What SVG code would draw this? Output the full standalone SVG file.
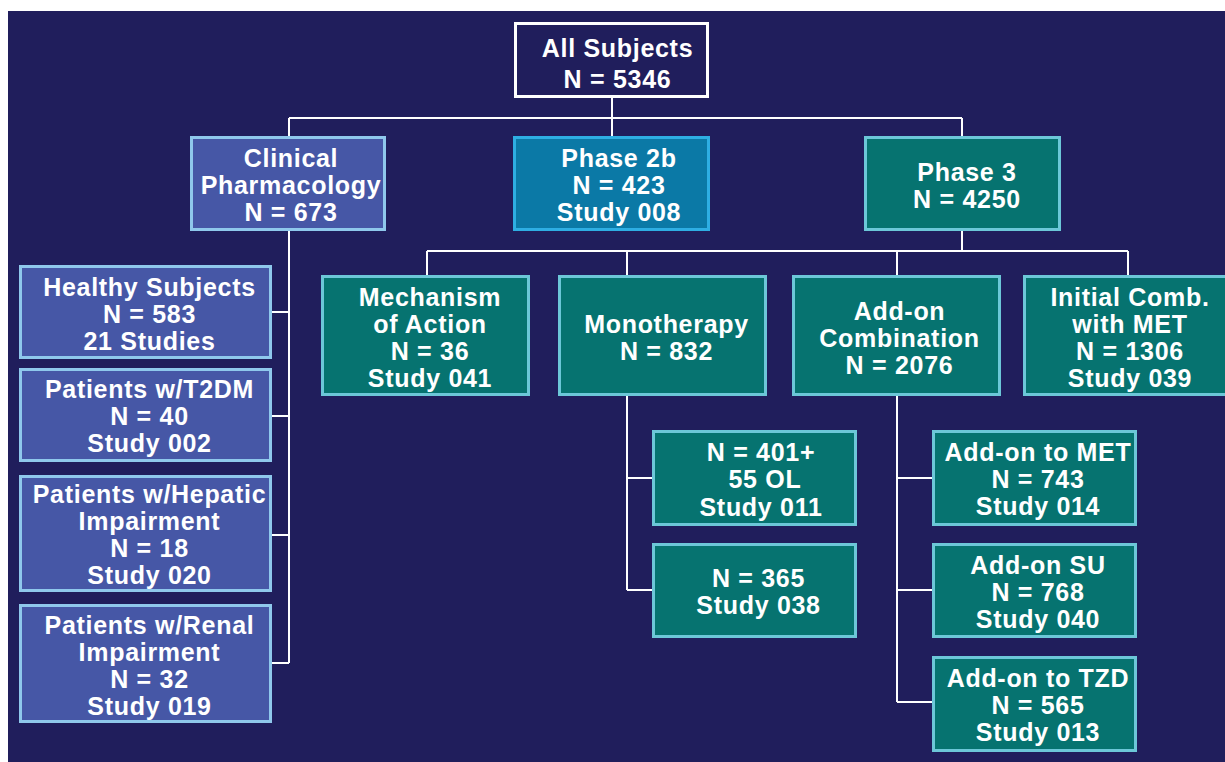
<svg xmlns="http://www.w3.org/2000/svg" width="1225" height="762" viewBox="0 0 1225 762">
<style>
.bg{fill:#201e5c}
.top{fill:#201e5c;stroke:#ffffff;stroke-width:3}
.cp{fill:#4657a6;stroke:#8fc8ec;stroke-width:3}
.p2{fill:#0b79a6;stroke:#2eaee3;stroke-width:3}
.tl{fill:#067370;stroke:#6cc7d8;stroke-width:3}
.ln{fill:none;stroke:#ffffff;stroke-width:2}
text{font-family:"Liberation Sans",Arial,sans-serif;font-weight:bold;font-size:25px;letter-spacing:0.7px;fill:#ffffff;text-anchor:middle}
</style>
<rect x="0" y="0" width="1225" height="762" fill="#ffffff"/>
<rect class="bg" x="8" y="11" width="1217" height="751"/>
<g id="connectors">
<path class="ln" d="M612 98V118M289 118H962M289 118V136M612 118V136M962 118V136"/>
<path class="ln" d="M289 231V663M272 312H289M272 416H289M272 535H289M272 663H289"/>
<path class="ln" d="M962 231V251M427 251H1128M427 251V275M627 251V275M897 251V275M1128 251V275"/>
<path class="ln" d="M627 396V590M627 478H652M627 590H652"/>
<path class="ln" d="M897 396V702M897 478H932M897 590H932M897 702H932"/>
</g>
<g id="all-subjects"><rect class="top" x="515.5" y="23.5" width="192" height="73"/><text x="617.5" y="57">All Subjects</text><text x="617.5" y="88">N = 5346</text></g>
<g id="clinical-pharmacology"><rect class="cp" x="191.5" y="137.5" width="193" height="92"/><text x="291" y="167">Clinical</text><text x="291" y="194">Pharmacology</text><text x="291" y="221">N = 673</text></g>
<g id="phase-2b"><rect class="p2" x="514.5" y="137.5" width="194" height="92"/><text x="619" y="167">Phase 2b</text><text x="619" y="194">N = 423</text><text x="619" y="221">Study 008</text></g>
<g id="phase-3"><rect class="tl" x="865.5" y="137.5" width="194" height="92"/><text x="967" y="181">Phase 3</text><text x="967" y="208">N = 4250</text></g>
<g id="healthy-subjects"><rect class="cp" x="20.5" y="266.5" width="250" height="91"/><text x="149.5" y="296">Healthy Subjects</text><text x="149.5" y="323">N = 583</text><text x="149.5" y="350">21 Studies</text></g>
<g id="patients-t2dm"><rect class="cp" x="20.5" y="369.5" width="250" height="91"/><text x="149.5" y="398">Patients w/T2DM</text><text x="149.5" y="425">N = 40</text><text x="149.5" y="452">Study 002</text></g>
<g id="patients-hepatic"><rect class="cp" x="20.5" y="476.5" width="250" height="114"/><text x="149.5" y="503">Patients w/Hepatic</text><text x="149.5" y="530">Impairment</text><text x="149.5" y="557">N = 18</text><text x="149.5" y="584">Study 020</text></g>
<g id="patients-renal"><rect class="cp" x="20.5" y="605.5" width="250" height="116"/><text x="149.5" y="634">Patients w/Renal</text><text x="149.5" y="661">Impairment</text><text x="149.5" y="688">N = 32</text><text x="149.5" y="715">Study 019</text></g>
<g id="mechanism"><rect class="tl" x="322.5" y="276.5" width="206" height="118"/><text x="430" y="306">Mechanism</text><text x="430" y="333">of Action</text><text x="430" y="360">N = 36</text><text x="430" y="387">Study 041</text></g>
<g id="monotherapy"><rect class="tl" x="559.5" y="276.5" width="206" height="118"/><text x="666.5" y="333">Monotherapy</text><text x="666.5" y="360">N = 832</text></g>
<g id="addon-combination"><rect class="tl" x="793.5" y="276.5" width="206" height="118"/><text x="899.5" y="320">Add-on</text><text x="899.5" y="347">Combination</text><text x="899.5" y="374">N = 2076</text></g>
<g id="initial-comb"><rect class="tl" x="1024.5" y="276.5" width="212" height="118"/><text x="1130" y="306">Initial Comb.</text><text x="1130" y="333">with MET</text><text x="1130" y="360">N = 1306</text><text x="1130" y="387">Study 039</text></g>
<g id="study-011"><rect class="tl" x="653.5" y="431.5" width="202" height="93"/><text x="761" y="461">N = 401+</text><text x="765" y="488">55 OL</text><text x="761" y="516">Study 011</text></g>
<g id="study-038"><rect class="tl" x="653.5" y="544.5" width="202" height="92"/><text x="758.5" y="587">N = 365</text><text x="758.5" y="614">Study 038</text></g>
<g id="addon-met"><rect class="tl" x="933.5" y="431.5" width="202" height="93"/><text x="1038" y="461">Add-on to MET</text><text x="1038" y="488">N = 743</text><text x="1038" y="515">Study 014</text></g>
<g id="addon-su"><rect class="tl" x="933.5" y="544.5" width="202" height="92"/><text x="1038" y="574">Add-on SU</text><text x="1038" y="601">N = 768</text><text x="1038" y="628">Study 040</text></g>
<g id="addon-tzd"><rect class="tl" x="933.5" y="657.5" width="202" height="93"/><text x="1038" y="687">Add-on to TZD</text><text x="1038" y="714">N = 565</text><text x="1038" y="741">Study 013</text></g>
</svg>
